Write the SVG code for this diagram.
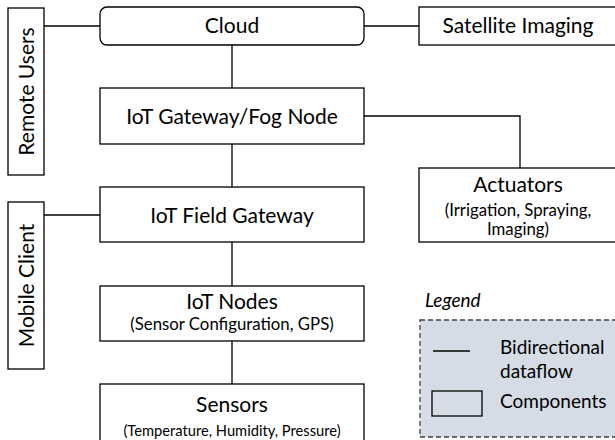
<svg xmlns="http://www.w3.org/2000/svg" width="615" height="440" viewBox="0 0 615 440">
<style>
.b{fill:#fff;stroke:#000;stroke-width:1.3}
.t{font-family:Lato,"Liberation Sans",sans-serif;font-size:21px;fill:#000;text-anchor:middle}
.s{font-family:Lato,"Liberation Sans",sans-serif;font-size:16.8px;fill:#000;text-anchor:middle}
.l{font-family:Lato,"Liberation Sans",sans-serif;font-size:19px;fill:#000}
.c{stroke:#000;stroke-width:1.3;fill:none}
</style>
<rect width="615" height="440" fill="#fff"/>
<g id="connectors">
<line class="c" x1="44" y1="26" x2="100" y2="26"/>
<line class="c" x1="364" y1="26" x2="419" y2="26"/>
<line class="c" x1="232" y1="45" x2="232" y2="88"/>
<polyline class="c" points="364,116 520,116 520,168"/>
<line class="c" x1="232" y1="144" x2="232" y2="187"/>
<line class="c" x1="44" y1="215" x2="100" y2="215"/>
<line class="c" x1="232" y1="242" x2="232" y2="286"/>
<line class="c" x1="232" y1="341" x2="232" y2="384"/>
</g>
<g id="remote-users">
<rect class="b" x="8" y="8" width="36" height="167"/>
<text class="t" transform="translate(33.5,91.5) rotate(-90)">Remote Users</text>
</g>
<g id="cloud">
<rect class="b" x="100" y="7" width="264" height="38" rx="7"/>
<text class="t" x="232" y="33">Cloud</text>
</g>
<g id="satellite">
<rect class="b" x="419" y="7" width="198" height="38"/>
<text class="t" x="518" y="33">Satellite Imaging</text>
</g>
<g id="fog-node">
<rect class="b" x="100" y="88" width="264" height="56"/>
<text class="t" x="232" y="124">IoT Gateway/Fog Node</text>
</g>
<g id="actuators">
<rect class="b" x="419" y="168" width="198" height="74"/>
<text class="t" x="518" y="191.5">Actuators</text>
<text class="s" x="518" y="215.5">(Irrigation, Spraying,</text>
<text class="s" x="518" y="235">Imaging)</text>
</g>
<g id="field-gateway">
<rect class="b" x="100" y="187" width="264" height="55"/>
<text class="t" x="232" y="222.5">IoT Field Gateway</text>
</g>
<g id="mobile-client">
<rect class="b" x="8" y="202" width="36" height="167"/>
<text class="t" transform="translate(33.5,285.5) rotate(-90)">Mobile Client</text>
</g>
<g id="iot-nodes">
<rect class="b" x="100" y="286" width="264" height="55"/>
<text class="t" x="232" y="308.5">IoT Nodes</text>
<text class="s" x="232" y="329.5">(Sensor Configuration, GPS)</text>
</g>
<g id="sensors">
<rect class="b" x="100" y="384" width="264" height="60"/>
<text class="t" x="232" y="412">Sensors</text>
<text class="s" x="232" y="435.5" style="font-size:14.7px">(Temperature, Humidity, Pressure)</text>
</g>
<g id="legend">
<text class="l" x="425" y="307" style="font-style:italic">Legend</text>
<rect x="420" y="320" width="200" height="117" fill="#d6dce5" stroke="#404040" stroke-width="1.3" stroke-dasharray="5,3"/>
<line class="c" x1="433" y1="351" x2="470" y2="351"/>
<text class="l" x="500" y="354">Bidirectional</text>
<text class="l" x="500" y="378">dataflow</text>
<rect x="432" y="391" width="50" height="25" fill="none" stroke="#000" stroke-width="1.3"/>
<text class="l" x="500" y="408">Components</text>
</g>
</svg>
